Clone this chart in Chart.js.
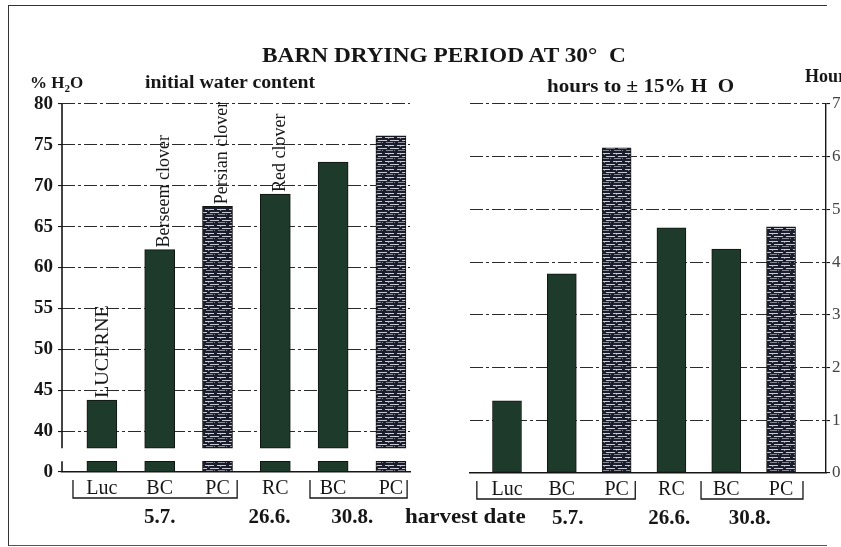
<!DOCTYPE html>
<html lang="en">
<head>
    <meta charset="UTF-8">
    <title>Barn drying period at 30° C</title>
    <script src="https://cdn.jsdelivr.net/npm/chart.js@4"></script>
    <style>
        html, body {
            margin: 0;
            padding: 0;
            background: #ffffff;
            overflow: hidden;
        }
        #page {
            position: relative;
            width: 841px;
            height: 547px;
            overflow: hidden;
            font-family: "Liberation Serif", "DejaVu Serif", serif;
            color: #161616;
        }
        #frame {
            position: absolute;
            left: 8px;
            top: 5px;
            width: 818px;
            height: 539px;
            border-top: 1.5px solid #333;
            border-left: 1.5px solid #333;
            border-bottom: 1.5px solid #555;
        }
        canvas {
            position: absolute;
            top: 0;
        }
        .txt {
            position: absolute;
            font-weight: bold;
            white-space: nowrap;
            transform-origin: 0 50%;
        }
    </style>
</head>
<body>
<div id="page">
    <div id="frame"></div>
    <canvas id="leftChart" width="420" height="547" style="left:0"></canvas>
    <canvas id="rightChart" width="421" height="547" style="left:420px"></canvas>

    <div class="txt" style="left:262px; top:43px; font-size:21px; transform:scaleX(1.11);">BARN DRYING PERIOD AT 30°&nbsp; C</div>
    <div class="txt" style="left:30px; top:73px; font-size:17px;">% H<sub style="font-size:11px">2</sub>O</div>
    <div class="txt" style="left:145px; top:72px; font-size:18px; transform:scaleX(1.1);">initial water content</div>
    <div class="txt" style="left:547px; top:76px; font-size:18px; transform:scaleX(1.17);">hours to ± 15% H&nbsp;&nbsp;O</div>
    <div class="txt" style="left:805px; top:66px; font-size:18px;">Hours</div>
    <div class="txt" style="left:405px; top:505px; font-size:20px; transform:scaleX(1.15);">harvest date</div>
</div>

<script>
    // crops along the x axis, same order in both panels
    const cropCodes = ['Luc', 'BC', 'PC', 'RC', 'BC', 'PC'];
    const barLabels = ['LUCERNE', 'Berseem clover', 'Persian clover', 'Red clover'];
    const harvestDates = ['5.7.', '26.6.', '30.8.'];

    // initial water content, % H2O
    const waterContent = [43.8, 62.2, 67.5, 69.0, 72.9, 76.1];
    // hours to about 15% H2O
    const dryingHours = [1.37, 3.78, 6.17, 4.65, 4.25, 4.67];

    const waterTicks = [0, 40, 45, 50, 55, 60, 65, 70, 75, 80];
    const hourTicks = [0, 1, 2, 3, 4, 5, 6, 7];

    // left axis is broken: the "0" tick sits one step below 40
    const AXIS_ZERO = 35;
    const BREAK_TOP = 37.9;
    const STUB_TOP = 36.3;

    const FONT = '"Liberation Serif", "DejaVu Serif", serif';
    const INK = '#161616';
    const GREEN = '#1d3a2b';

    function makeStripes(ctx) {
        const c = document.createElement('canvas');
        c.width = 12;
        c.height = 8;
        const g = c.getContext('2d');
        g.fillStyle = '#1a1d2c';
        g.fillRect(0, 0, 12, 8);
        g.fillStyle = '#c9cad3';
        g.fillRect(1, 1, 9, 1);
        g.fillRect(0, 4, 3, 1);
        g.fillRect(6, 4, 6, 1);
        g.fillStyle = '#8a8c99';
        g.fillRect(2, 6, 7, 1);
        g.fillRect(4, 2, 1, 1);
        g.fillRect(10, 6, 1, 1);
        return ctx.createPattern(c, 'repeat');
    }

    function fillsFor(ctx) {
        const stripes = makeStripes(ctx);
        return cropCodes.map(c => c === 'PC' ? stripes : GREEN);
    }

    // brackets, harvest dates, rotated names and the broken axis line
    const decoPlugin = {
        id: 'deco',
        afterDraw(chart, args, opts) {
            const ctx = chart.ctx;
            const xs = chart.scales.x;
            const ys = chart.scales.y;
            const area = chart.chartArea;
            ctx.save();
            ctx.strokeStyle = INK;
            ctx.lineWidth = 1.3;

            if (opts.brokenAxis) {
                ctx.lineWidth = 1.6;
                ctx.beginPath();
                ctx.moveTo(area.left, area.top);
                ctx.lineTo(area.left, ys.getPixelForValue(BREAK_TOP));
                ctx.moveTo(area.left, ys.getPixelForValue(STUB_TOP));
                ctx.lineTo(area.left, area.bottom);
                ctx.stroke();
                ctx.lineWidth = 1.3;
            }

            opts.brackets.forEach(([a, b]) => {
                const xa = xs.getPixelForValue(a);
                const xb = xs.getPixelForValue(b);
                const y1 = area.bottom + 8;
                const y2 = area.bottom + 26;
                ctx.beginPath();
                ctx.moveTo(xa, y1);
                ctx.lineTo(xa, y2);
                ctx.lineTo(xb, y2);
                ctx.lineTo(xb, y1);
                ctx.stroke();
            });

            ctx.fillStyle = INK;
            ctx.font = 'bold 21px ' + FONT;
            ctx.textAlign = 'center';
            ctx.textBaseline = 'middle';
            harvestDates.forEach((d, i) => {
                ctx.fillText(d, xs.getPixelForValue(opts.datePos[i]), area.bottom + 46);
            });

            if (opts.names) {
                ctx.textAlign = 'left';
                barLabels.forEach((name, i) => {
                    const x = xs.getPixelForValue(i) + (i === 0 ? 1 : 5);
                    const y = ys.getPixelForValue(waterContent[i]) - 2;
                    ctx.save();
                    ctx.translate(x, y);
                    ctx.rotate(-Math.PI / 2);
                    ctx.font = (i === 0 ? '19px ' : '18px ') + FONT;
                    if (i === 0) ctx.scale(1.06, 1);
                    ctx.fillText(name, 0, 0);
                    ctx.restore();
                });
            }
            ctx.restore();
        }
    };

    const gridDash = {
        color: '#2a2a2a',
        lineWidth: 1.1,
        tickBorderDash: [],
        tickLength: 4,
        tickColor: INK
    };

    function xScale(min, max) {
        return {
            type: 'linear',
            min: min,
            max: max,
            offset: false,
            afterBuildTicks: s => { s.ticks = cropCodes.map((_, i) => ({ value: i })); },
            ticks: {
                callback: v => cropCodes[v],
                font: { family: FONT, size: 20 },
                color: INK,
                padding: 5,
                autoSkip: false,
                maxRotation: 0
            },
            grid: { display: false, drawTicks: false, offset: false },
            border: { display: true, color: INK, width: 1.6 }
        };
    }

    const ctxL = document.getElementById('leftChart').getContext('2d');
    const fillsL = fillsFor(ctxL);
    new Chart(ctxL, {
        type: 'bar',
        data: {
            datasets: [
                {
                    data: waterContent.map((v, i) => ({ x: i, y: [BREAK_TOP, v] })),
                    backgroundColor: fillsL,
                    borderColor: '#101512',
                    borderWidth: 1,
                    borderSkipped: false,
                    barThickness: 30,
                    grouped: false
                },
                {
                    data: waterContent.map((v, i) => ({ x: i, y: [AXIS_ZERO, STUB_TOP] })),
                    backgroundColor: fillsL,
                    borderColor: '#101512',
                    borderWidth: 1,
                    borderSkipped: false,
                    barThickness: 30,
                    grouped: false
                }
            ]
        },
        options: {
            responsive: false,
            animation: false,
            layout: { padding: { top: 104, right: 10, bottom: 0, left: 0 } },
            plugins: {
                legend: { display: false },
                tooltip: { enabled: false },
                deco: {
                    brokenAxis: true,
                    names: true,
                    brackets: [[-0.5, 2.34], [3.6, 5.28]],
                    datePos: [1, 2.9, 4.33]
                }
            },
            scales: {
                x: Object.assign(xScale(-0.69, 5.33), {
                    afterFit: s => { s.height = 75; }
                }),
                y: {
                    min: AXIS_ZERO,
                    max: 80,
                    afterBuildTicks: s => {
                        s.ticks = waterTicks.map(t => ({ value: t === 0 ? AXIS_ZERO : t }));
                    },
                    afterFit: s => { s.width = 62; },
                    ticks: {
                        callback: v => v === AXIS_ZERO ? '0' : String(v),
                        font: { family: FONT, size: 19, weight: 'bold' },
                        color: INK,
                        padding: 5
                    },
                    grid: Object.assign({}, gridDash, {
                        color: c => c.tick && c.tick.value === AXIS_ZERO ? 'rgba(0,0,0,0)' : '#2a2a2a'
                    }),
                    border: { display: false, dash: [13, 3, 3, 3] }
                }
            }
        },
        plugins: [decoPlugin]
    });

    const ctxR = document.getElementById('rightChart').getContext('2d');
    new Chart(ctxR, {
        type: 'bar',
        data: {
            datasets: [{
                data: dryingHours.map((v, i) => ({ x: i, y: v })),
                backgroundColor: fillsFor(ctxR),
                borderColor: '#101512',
                borderWidth: 1,
                borderSkipped: false,
                barThickness: 29
            }]
        },
        options: {
            responsive: false,
            animation: false,
            layout: { padding: { top: 104, right: 0, bottom: 0, left: 50 } },
            plugins: {
                legend: { display: false },
                tooltip: { enabled: false },
                deco: {
                    brokenAxis: false,
                    names: false,
                    brackets: [[-0.55, 2.34], [3.54, 5.4]],
                    datePos: [1.11, 2.96, 4.43]
                }
            },
            scales: {
                x: Object.assign(xScale(-0.675, 5.82), {
                    afterFit: s => { s.height = 74; }
                }),
                y: {
                    position: 'right',
                    min: 0,
                    max: 7,
                    afterBuildTicks: s => { s.ticks = hourTicks.map(t => ({ value: t })); },
                    afterFit: s => { s.width = 15; },
                    ticks: {
                        font: { family: FONT, size: 17 },
                        color: '#444',
                        padding: 2
                    },
                    grid: Object.assign({}, gridDash, {
                        color: c => c.tick && c.tick.value === 0 ? 'rgba(0,0,0,0)' : '#2a2a2a'
                    }),
                    border: { display: true, color: INK, width: 1.4, dash: [13, 3, 3, 3] }
                }
            }
        },
        plugins: [decoPlugin]
    });
</script>
</body>
</html>
